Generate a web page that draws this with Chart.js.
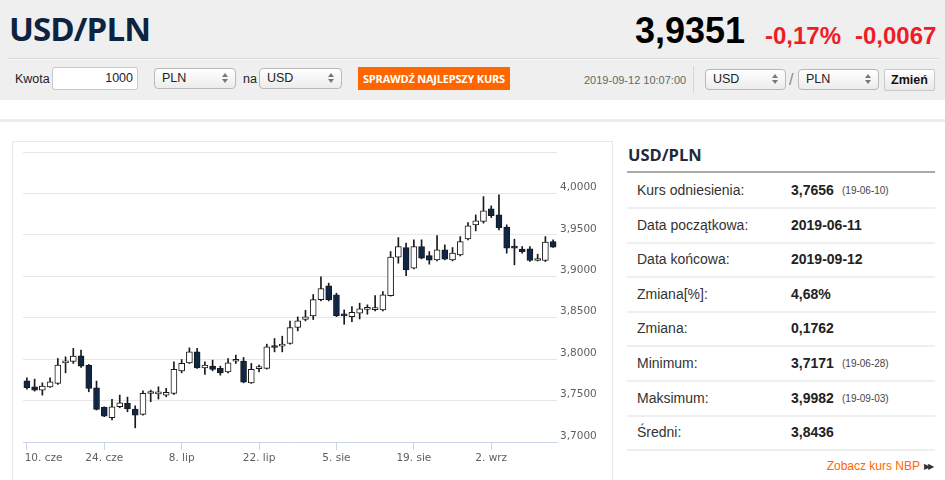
<!DOCTYPE html>
<html><head><meta charset="utf-8">
<script src="https://cdn.jsdelivr.net/npm/chart.js@4.4.0/dist/chart.umd.min.js"></script>
<style>
html,body{margin:0;padding:0;}
body{width:945px;height:480px;overflow:hidden;background:#fff;position:relative;font-family:'Liberation Sans',Arial,sans-serif;}
.a{position:absolute;white-space:nowrap;}
.sel{position:absolute;box-sizing:border-box;height:21px;border:1px solid #b9b9b9;border-radius:4px;background:linear-gradient(#ffffff,#ececec);font-size:12.5px;color:#222;line-height:19px;padding-left:7px;}
.arr{position:absolute;right:7px;top:4px;width:6px;height:11px;}
.arr:before{content:'';position:absolute;left:0;top:0;border-left:3px solid transparent;border-right:3px solid transparent;border-bottom:4px solid #777;}
.arr:after{content:'';position:absolute;left:0;top:6px;border-left:3px solid transparent;border-right:3px solid transparent;border-top:4px solid #777;}
.lbl{position:absolute;left:637px;font-size:14px;color:#333;height:20px;line-height:20px;white-space:nowrap;}
.val{position:absolute;left:791px;font-size:14px;font-weight:bold;color:#222;height:20px;line-height:20px;white-space:nowrap;}
.sm{position:absolute;left:842px;font-size:10px;color:#444;height:20px;line-height:21px;white-space:nowrap;}
.sep{position:absolute;left:627px;width:308px;height:2px;background:#efefef;}
</style>
</head>
<body>
<div class="a" style="left:0;top:0;width:945px;height:100px;background:#efefef;"></div>
<div class="a" style="left:9px;top:12px;font-family:'Open Sans',sans-serif;font-weight:bold;font-size:33px;line-height:34px;color:#0d2340;letter-spacing:-0.9px;">USD/PLN</div>
<div class="a" style="right:200px;top:13px;font-weight:bold;font-size:36px;line-height:36px;color:#000;">3,9351</div>
<div class="a" style="left:765px;top:24px;font-weight:bold;font-size:24px;line-height:24px;color:#ee1d25;">-0,17%</div>
<div class="a" style="left:855px;top:24px;font-weight:bold;font-size:24px;line-height:24px;color:#ee1d25;">-0,0067</div>
<div class="a" style="left:8px;top:58px;width:930px;height:1px;background:#d9d9d9;"></div>
<div class="a" style="left:8px;top:59px;width:930px;height:1px;background:#f8f8f8;"></div>

<div class="a" style="left:15px;top:71px;font-size:12.5px;line-height:16px;color:#222;">Kwota</div>
<div class="a" style="left:52px;top:67px;width:86px;height:23px;box-sizing:border-box;border:1px solid #c8c8c8;border-radius:3px;background:#fff;font-size:12.5px;line-height:21px;text-align:right;padding-right:4px;color:#222;">1000</div>
<div class="sel" style="left:154px;top:68px;width:82px;">PLN<span class="arr"></span></div>
<div class="a" style="left:243px;top:71px;font-size:12.5px;line-height:16px;color:#222;">na</div>
<div class="sel" style="left:259px;top:68px;width:83px;">USD<span class="arr"></span></div>
<div class="a" style="left:358px;top:67px;width:152px;height:23px;background:#ff6600;color:#fff;font-family:'Open Sans',sans-serif;font-weight:bold;font-size:11px;line-height:23px;text-align:center;letter-spacing:-0.2px;">SPRAWDŹ NAJLEPSZY KURS</div>

<div class="a" style="left:584px;top:72px;font-size:11px;line-height:16px;color:#666;">2019-09-12 10:07:00</div>
<div class="a" style="left:693px;top:66px;width:1px;height:27px;background:#d6d6d6;"></div>
<div class="sel" style="left:705px;top:69px;width:81px;">USD<span class="arr"></span></div>
<div class="a" style="left:789px;top:70px;font-size:16px;line-height:20px;color:#888;">/</div>
<div class="sel" style="left:798px;top:69px;width:81px;">PLN<span class="arr"></span></div>
<div class="a" style="left:884px;top:69px;width:51px;height:22px;box-sizing:border-box;border:1px solid #c8c8c8;border-radius:2px;background:linear-gradient(#ffffff,#e9e9e9);font-weight:bold;font-size:12.5px;line-height:20px;text-align:center;color:#111;">Zmień</div>

<div class="a" style="left:0;top:119px;width:945px;height:3px;background:#ececec;"></div>
<div class="a" style="left:12px;top:141px;width:599px;height:360px;border:1px solid #e8e8e8;"></div>
<canvas id="c" class="a" style="left:12px;top:142px;" width="600" height="338"></canvas>

<div class="a" style="left:628px;top:144px;font-family:'Open Sans',sans-serif;font-weight:bold;font-size:16.5px;line-height:22px;color:#1e2b3a;">USD/PLN</div>
<div class="a" style="left:627px;top:171px;width:308px;height:2px;background:#a9a9a9;"></div>
<div id="rows"></div>
<div class="a" style="right:25px;top:458px;font-size:12px;line-height:16px;color:#ff6600;">Zobacz kurs NBP</div>
<div class="a" style="left:924px;top:459px;font-size:8px;line-height:16px;color:#333;letter-spacing:-2px;">▶▶</div>

<script>
// ---- data ----
const dates = ['2019-06-10','2019-06-11','2019-06-12','2019-06-13','2019-06-14','2019-06-17','2019-06-18','2019-06-19','2019-06-20','2019-06-21',
'2019-06-24','2019-06-25','2019-06-26','2019-06-27','2019-06-28','2019-07-01','2019-07-02','2019-07-03','2019-07-04','2019-07-05',
'2019-07-08','2019-07-09','2019-07-10','2019-07-11','2019-07-12','2019-07-15','2019-07-16','2019-07-17','2019-07-18','2019-07-19',
'2019-07-22','2019-07-23','2019-07-24','2019-07-25','2019-07-26','2019-07-29','2019-07-30','2019-07-31','2019-08-01','2019-08-02',
'2019-08-05','2019-08-06','2019-08-07','2019-08-08','2019-08-09','2019-08-12','2019-08-13','2019-08-14','2019-08-15','2019-08-16',
'2019-08-19','2019-08-20','2019-08-21','2019-08-22','2019-08-23','2019-08-26','2019-08-27','2019-08-28','2019-08-29','2019-08-30',
'2019-09-02','2019-09-03','2019-09-04','2019-09-05','2019-09-06','2019-09-09','2019-09-10','2019-09-11','2019-09-12'];
const openV  = [3.7739,3.7666,3.7627,3.7666,3.7707,3.7955,3.7972,3.8040,3.7928,3.7654,
3.7418,3.7293,3.7425,3.7466,3.7398,3.7334,3.7585,3.7580,3.7566,3.7587,
3.7859,3.7955,3.8088,3.7895,3.7916,3.7888,3.7847,3.7975,3.7976,3.7714,
3.7885,3.7888,3.8145,3.8157,3.8189,3.8382,3.8478,3.8522,3.8719,3.8884,
3.8775,3.8528,3.8513,3.8554,3.8600,3.8598,3.8594,3.8767,3.9231,3.9347,
3.9098,3.9359,3.9250,3.9198,3.9319,3.9198,3.9258,3.9452,3.9621,3.9661,
3.9814,3.9741,3.9593,3.9345,3.9327,3.9331,3.9190,3.9190,3.9419];
const highV  = [3.7775,3.7759,3.7714,3.7775,3.8008,3.8028,3.8129,3.8108,3.7936,3.7735,
3.7425,3.7514,3.7566,3.7542,3.7437,3.7618,3.7627,3.7666,3.7647,3.7967,
3.7996,3.8136,3.8129,3.7967,3.7988,3.7916,3.8008,3.8048,3.8020,3.7948,
3.7928,3.8181,3.8249,3.8277,3.8458,3.8510,3.8590,3.8780,3.8992,3.8917,
3.8796,3.8594,3.8634,3.8675,3.8655,3.8767,3.8815,3.9298,3.9467,3.9400,
3.9440,3.9440,3.9298,3.9491,3.9379,3.9347,3.9479,3.9649,3.9741,3.9962,
3.9850,3.9982,3.9621,3.9448,3.9359,3.9359,3.9267,3.9479,3.9440];
const lowV   = [3.7639,3.7614,3.7566,3.7659,3.7695,3.7835,3.7948,3.7900,3.7606,3.7386,
3.7305,3.7265,3.7413,3.7365,3.7171,3.7325,3.7486,3.7518,3.7546,3.7575,
3.7835,3.7948,3.7888,3.7816,3.7859,3.7807,3.7835,3.7948,3.7714,3.7707,
3.7847,3.7880,3.8088,3.8088,3.8181,3.8341,3.8461,3.8478,3.8702,3.8703,
3.8513,3.8421,3.8453,3.8485,3.8542,3.8582,3.8582,3.8760,3.9158,3.9008,
3.9089,3.9210,3.9146,3.9186,3.9198,3.9186,3.9246,3.9440,3.9548,3.9641,
3.9709,3.9560,3.9279,3.9138,3.9279,3.9178,3.9185,3.9178,3.9347];
const closeV = [3.7656,3.7627,3.7675,3.7727,3.7928,3.7962,3.8036,3.7916,3.7647,3.7394,
3.7313,3.7425,3.7474,3.7398,3.7325,3.7587,3.7590,3.7586,3.7598,3.7876,
3.7948,3.8088,3.7895,3.7928,3.7876,3.7835,3.7955,3.7982,3.7723,3.7876,
3.7892,3.8148,3.8140,3.8181,3.8382,3.8461,3.8510,3.8719,3.8852,3.8715,
3.8525,3.8522,3.8566,3.8606,3.8606,3.8605,3.8775,3.9231,3.9359,3.9077,
3.9359,3.9219,3.9194,3.9319,3.9206,3.9279,3.9419,3.9609,3.9669,3.9790,
3.9733,3.9588,3.9339,3.9339,3.9298,3.9190,3.9195,3.9412,3.9351];
const tickDates  = ['2019-06-10','2019-06-24','2019-07-08','2019-07-22','2019-08-05','2019-08-19','2019-09-02'];
const tickLabels = ['10. cze','24. cze','8. lip','22. lip','5. sie','19. sie','2. wrz'];
const yTicks = [3.70,3.75,3.80,3.85,3.90,3.95,4.00,4.05];

const statLabels = ['Kurs odniesienia:','Data początkowa:','Data końcowa:','Zmiana[%]:','Zmiana:','Minimum:','Maksimum:','Średni:'];
const statValues = ['3,7656','2019-06-11','2019-09-12','4,68%','0,1762','3,7171','3,9982','3,8436'];
const statNotes  = ['(19-06-10)','','','','','(19-06-28)','(19-09-03)',''];

// ---- right panel rows ----
const rows = document.getElementById('rows');
let html = '';
statLabels.forEach((l, i) => {
  const cy = 190 + i * 34.6;
  html += `<div class="lbl" style="top:${cy - 10}px">${l}</div>`;
  html += `<div class="val" style="top:${cy - 10}px">${statValues[i]}</div>`;
  if (statNotes[i]) html += `<div class="sm" style="top:${cy - 10}px">${statNotes[i]}</div>`;
  html += `<div class="sep" style="top:${cy + 17}px"></div>`;
});
rows.innerHTML = html;

// ---- chart ----
const tickIdx = tickDates.map(d => dates.indexOf(d));
const UP = '#ffffff', DOWN = '#0f2747', LINE = '#1a1a1a';

new Chart(document.getElementById('c'), {
  type: 'bar',
  data: {
    labels: dates,
    datasets: [
      {
        label: 'body',
        data: dates.map((d, i) => [openV[i], closeV[i]]),
        backgroundColor: dates.map((d, i) => closeV[i] >= openV[i] ? UP : DOWN),
        borderColor: LINE,
        borderWidth: 1,
        borderSkipped: false,
        barThickness: 6,
        minBarLength: 2,
        grouped: false,
        order: 1
      },
      {
        label: 'wick',
        data: dates.map((d, i) => [lowV[i], highV[i]]),
        backgroundColor: LINE,
        borderWidth: 0,
        barThickness: 1,
        grouped: false,
        order: 2
      }
    ]
  },
  options: {
    responsive: false,
    animation: false,
    layout: { padding: { left: 11, top: 10, right: 0, bottom: 0 } },
    plugins: { legend: { display: false }, tooltip: { enabled: false } },
    scales: {
      x: {
        offset: true,
        grid: {
          offset: false,
          drawOnChartArea: false,
          drawTicks: true,
          tickLength: 8,
          color: c => tickIdx.includes(c.index) ? '#ccd6eb' : 'rgba(0,0,0,0)'
        },
        border: { display: true, color: '#ccd6eb' },
        ticks: {
          autoSkip: false,
          maxRotation: 0,
          padding: 2,
          color: '#606060',
          font: { family: 'DejaVu Sans', size: 10.5 },
          callback: (v, i) => {
            const k = tickIdx.indexOf(i);
            if (k < 0) return '';
            return k === 0 ? '          ' + tickLabels[k] : tickLabels[k];
          }
        },
        afterFit: s => { s.height = 38; s.paddingLeft = 0; s.paddingRight = 0; }
      },
      y: {
        position: 'right',
        min: yTicks[0],
        max: yTicks[yTicks.length - 1],
        afterBuildTicks: s => { s.ticks = yTicks.map(v => ({ value: v })); },
        grid: { color: '#e6e6e6', drawTicks: false },
        border: { display: false },
        ticks: {
          padding: 3,
          labelOffset: -6,
          color: '#606060',
          font: { family: 'DejaVu Sans', size: 10.5 },
          callback: v => v > 4.04 ? '' : v.toFixed(4).replace('.', ',')
        },
        afterFit: s => { s.width = 55; s.paddingTop = 0; s.paddingBottom = 0; }
      }
    }
  }
});
</script>
</body></html>
